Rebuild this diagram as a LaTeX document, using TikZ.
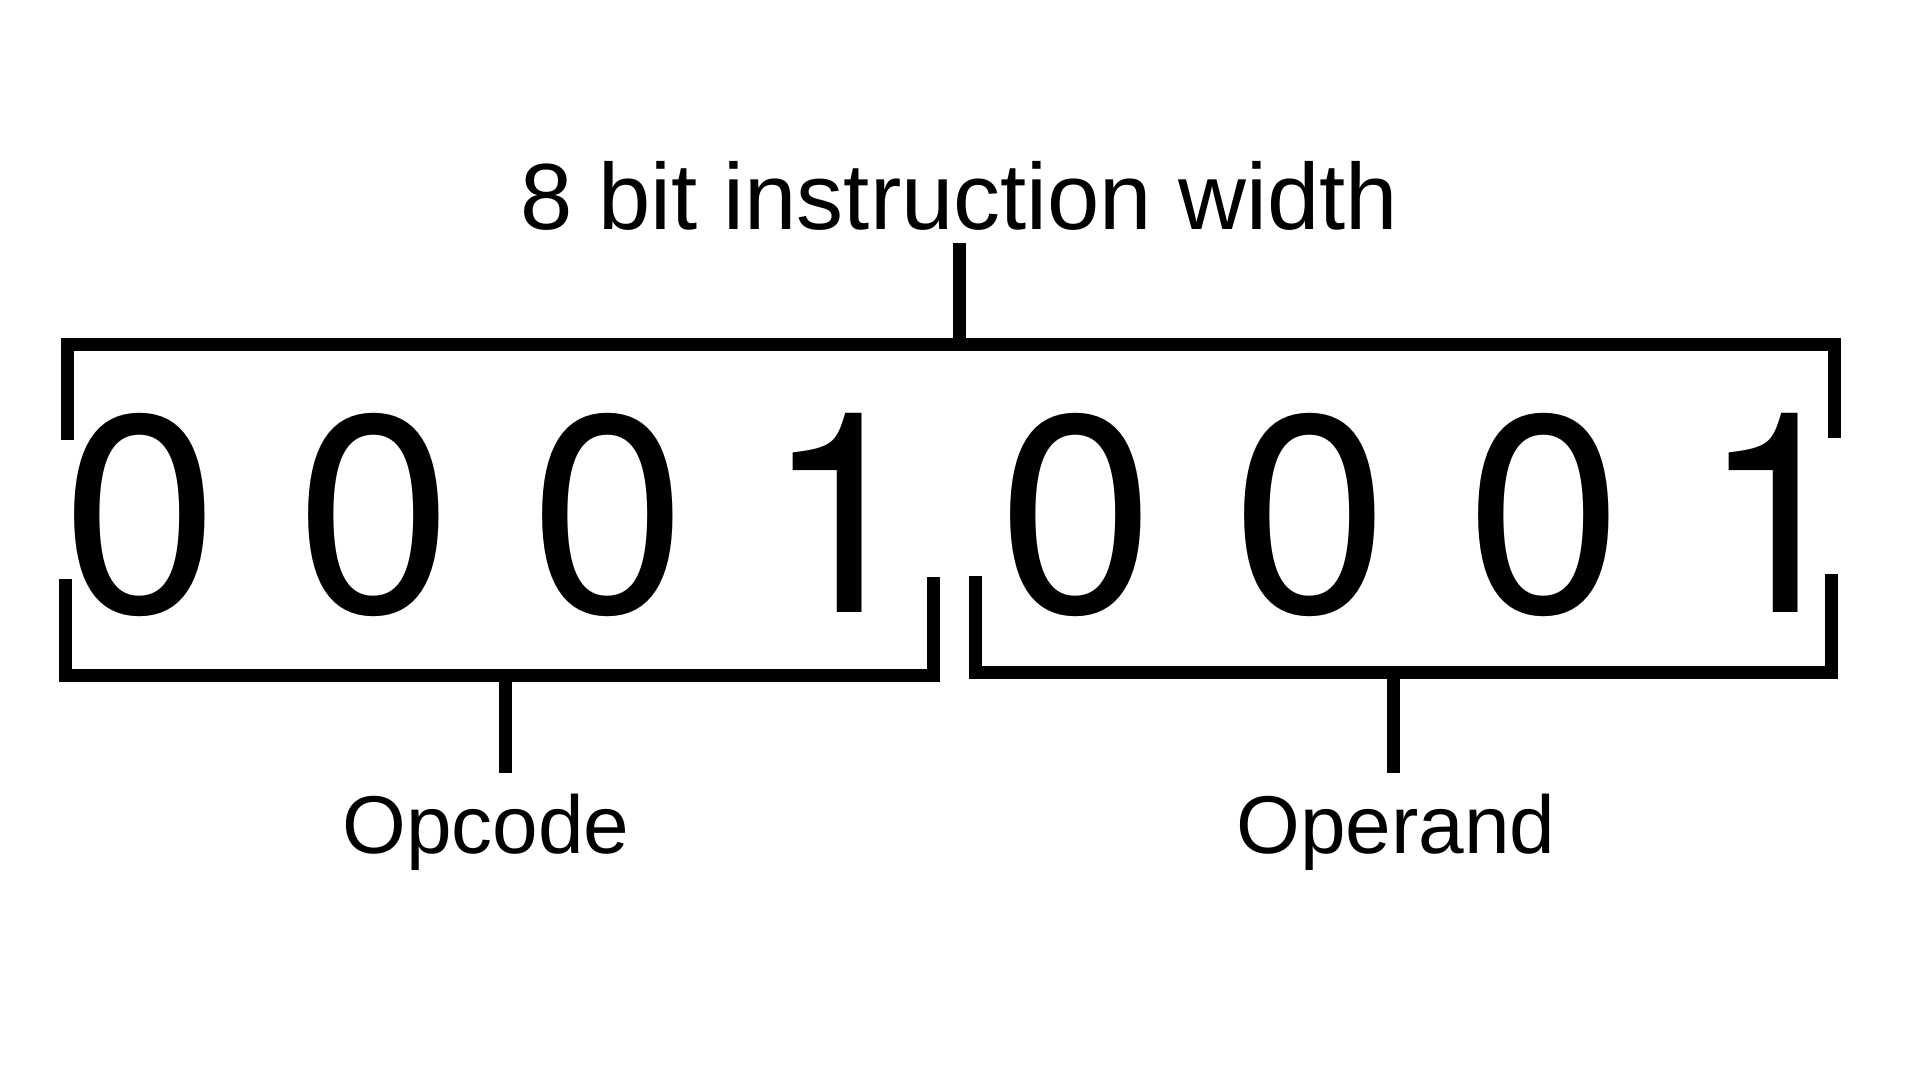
\documentclass[tikz,border=0pt]{standalone}
\usepackage{fontspec}
\setmainfont{Liberation Sans}
\newfontfamily\bitfont{TeX Gyre Heros}

\begin{document}
\begin{tikzpicture}[x=1pt, y=-1pt,
		bracket/.style={line width=13pt, line join=miter},
		bit/.style={anchor=base, inner sep=0pt, font=\bitfont\fontsize{281}{281}\selectfont},
		fieldname/.style={anchor=base, inner sep=0pt, font=\fontsize{82}{82}\selectfont}]
			\useasboundingbox (0,0) rectangle (1920,1080);
			\def\gap{234};
			
			% the eight bits
			\foreach \b [count=\i from 0] in {0,0,0,1,0,0,0,1}
				\node [bit] (b\i) at (141+\gap*\i,612) {\b};
			
			\node [anchor=base, inner sep=0pt, font=\fontsize{94}{94}\selectfont] (width) at (959,229) {8 bit instruction width};
			\node [fieldname] (opcode) at (486,853) {Opcode};
			\node [fieldname] (operand) at (1396,853) {Operand};
			
			\coordinate (widthmid) at (959,344);
			\coordinate (widthtip) at (959,243);
			\coordinate (opcodemid) at (505,675);
			\coordinate (opcodetip) at (505,773);
			\coordinate (operandmid) at (1393,672);
			\coordinate (operandtip) at (1393,773);
			
			\draw [bracket] (67,440) -- (67,344) -- (1834,344) -- (1834,438);
			\draw [bracket] (65,579) -- (65,675) -- (933,675) -- (933,577);
			\draw [bracket] (975,576) -- (975,672) -- (1831,672) -- (1831,574);
			
			\draw [bracket] (widthmid) -- (widthtip);
			\draw [bracket] (opcodemid) -- (opcodetip);
			\draw [bracket] (operandmid) -- (operandtip);
		\end{tikzpicture}
\end{document}
